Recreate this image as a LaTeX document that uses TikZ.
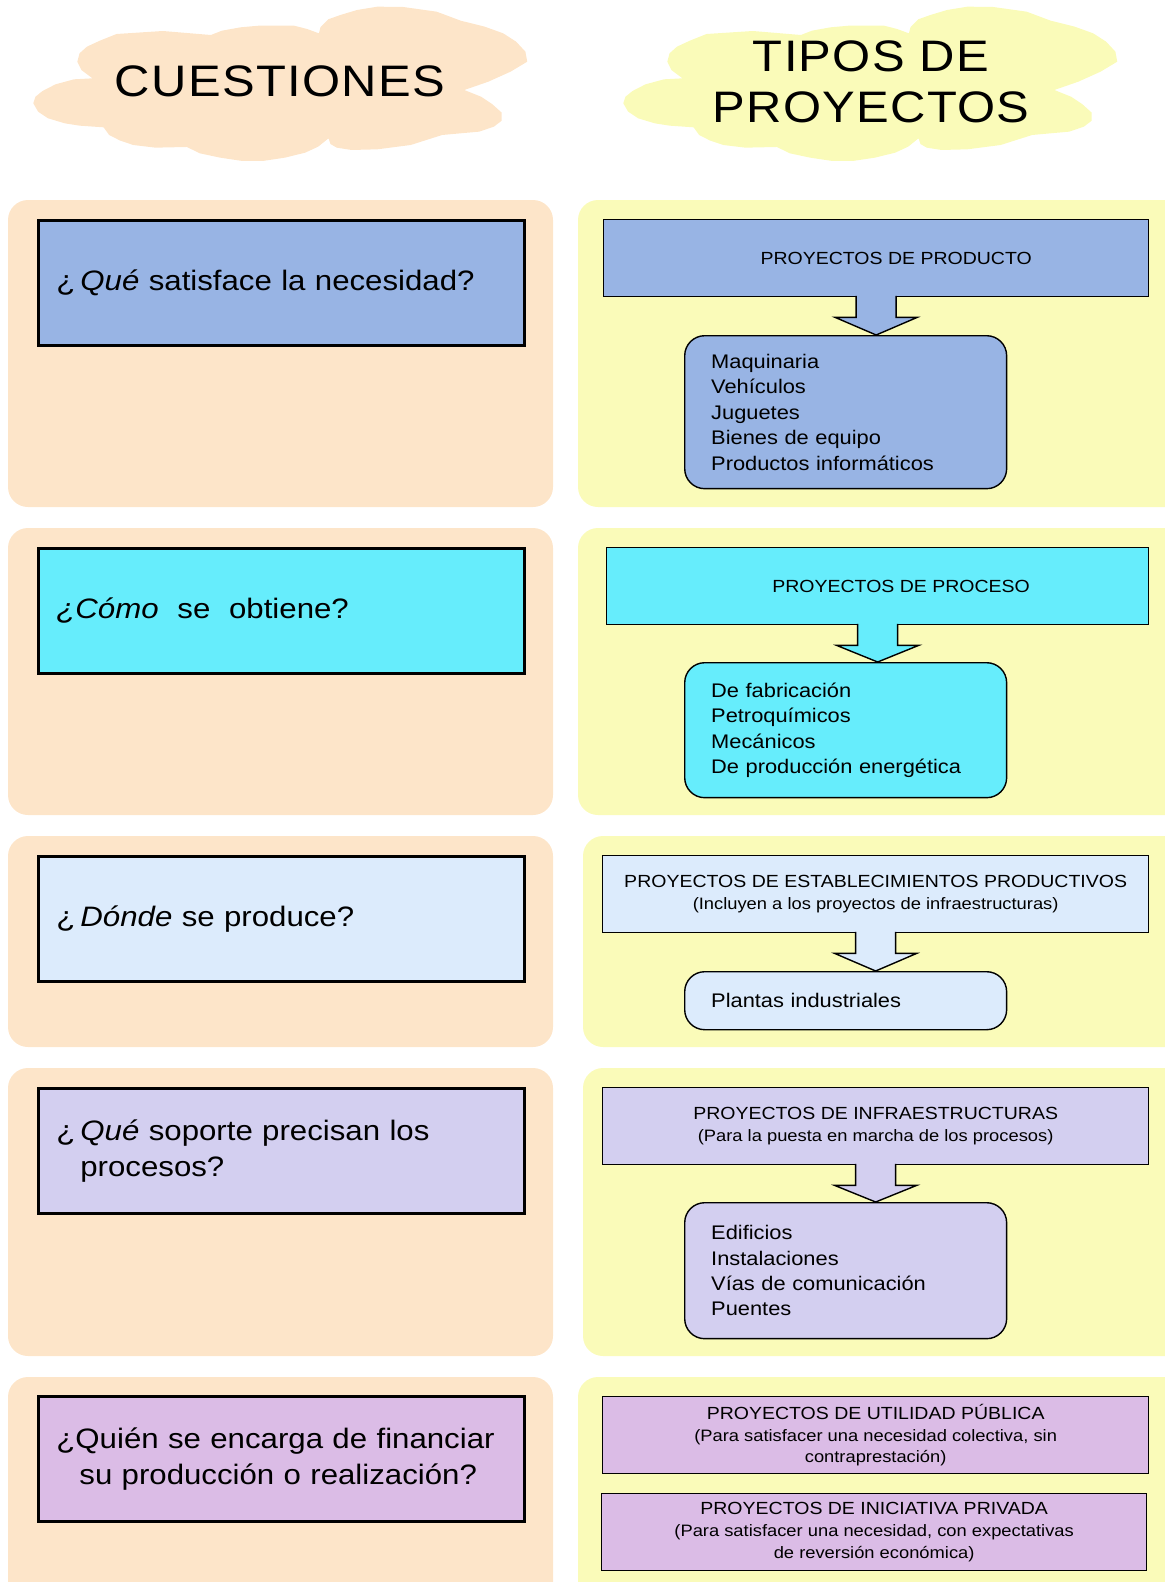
\documentclass[tikz,border=0pt]{standalone}
\usepackage{fontspec}
\setmainfont{Liberation Sans}[FakeStretch=1.11]
\newfontfamily\headfam{Liberation Sans}[FakeStretch=1.11, LetterSpace=3]
\usetikzlibrary{calc}

\definecolor{colpanelq}{HTML}{FDE5C9}
\definecolor{colpanelt}{HTML}{FAFBB9}
\definecolor{colproducto}{HTML}{98B4E4}
\definecolor{colproceso}{HTML}{66EDFC}
\definecolor{colestab}{HTML}{DCEBFC}
\definecolor{colinfra}{HTML}{D3CFF0}
\definecolor{colfinan}{HTML}{DBBCE6}

\newcommand{\headfont}{\headfam\fontsize{25.1}{29.3}\selectfont}
\newcommand{\subtxt}{\fontsize{9.4}{11}\selectfont}
\newcommand{\qsp}{\hspace{0.1cm}}
% cloud outline, traced at 2.7x / 3x
\newcommand{\drawcloud}[2]{%
  \fill[#1, shift={#2}, xscale=0.37, yscale=0.3333] (209,185) -- (215,160) -- (235,140) -- (270,122)
    -- (315,102) -- (440,93) -- (570,105) -- (600,92) -- (650,82) -- (700,77) -- (795,77)
    -- (830,87) -- (862,100) -- (866,82) -- (887,58) -- (920,45) -- (965,30) -- (1020,20)
    -- (1090,21) -- (1180,35) -- (1245,62) -- (1310,80) -- (1360,100) -- (1395,125)
    -- (1420,155) -- (1425,185) -- (1380,215) -- (1320,245) -- (1255,270) -- (1300,290)
    -- (1330,312) -- (1356,338) -- (1356,362) -- (1335,380) -- (1295,395) -- (1195,405)
    -- (1110,435) -- (1020,448) -- (950,450) -- (910,443) -- (893,432) -- (888,415)
    -- (860,440) -- (825,458) -- (770,473) -- (710,483) -- (655,483) -- (595,473)
    -- (540,460) -- (505,441) -- (420,443) -- (360,435) -- (325,422) -- (295,405)
    -- (280,382) -- (215,377) -- (175,370) -- (130,355) -- (103,335) -- (90,310)
    -- (96,290) -- (115,273) -- (150,253) -- (200,238) -- (250,235) -- (220,210) -- cycle;}

\tikzset{
  panel/.style={rounded corners=0.4cm},
  qbox/.style={draw, line width=1.6pt, anchor=north west, minimum width=9.72cm,
    minimum height=2.5cm, text width=9cm, inner xsep=0.36cm, align=left,
    font=\fontsize{16}{20.2}\selectfont},
  hbox/.style={draw, line width=0.8pt, anchor=north west, minimum height=1.54cm,
    align=center, font=\fontsize{10}{12.4}\selectfont},
  ibox/.style={draw, line width=0.8pt, rounded corners=0.4cm, anchor=north west,
    minimum width=6.44cm, text width=5.38cm, inner xsep=0.53cm, align=left,
    font=\fontsize{11.2}{14.5}\selectfont},
  headtxt/.style={font=\headfont, align=center}
}

\begin{document}
\begin{tikzpicture}[x=0.02cm, y=-0.02cm]
  \useasboundingbox (0,0) rectangle (1165,1582);
  \clip (0,0) rectangle (1165,1582);
  % background panels
  \foreach \ya/\yb in {200/507,528/815,836/1047,1068/1356,1377/1610}
    \fill[colpanelq, panel] (8,\ya) rectangle (553,\yb);
  \foreach \xa/\ya/\yb in {578/200/507,578/528/815,583/836/1047,583/1068/1356,578/1377/1610}
    \fill[colpanelt, panel] (\xa,\ya) rectangle (1190,\yb);
  % titles
  \drawcloud{colpanelq}{(0,0)}
  \drawcloud{colpanelt}{(590,0)}
  \node[headtxt] (tcuest) at (280,81) {CUESTIONES};
  \node[headtxt] (ttipos) at (871,82) {TIPOS DE\\PROYECTOS};
  % questions
  \node[qbox, fill=colproducto] (q1) at (37,219) {¿\qsp\textit{Qué} satisface la necesidad?};
  \node[qbox, fill=colproceso] (q2) at (37,547) {\textit{¿Cómo}\ \ se\ \ obtiene?};
  \node[qbox, fill=colestab] (q3) at (37,855) {¿\qsp\textit{Dónde} se produce?};
  \node[qbox, fill=colinfra] (q4) at (37,1087) {¿\qsp\textit{Qué} soporte precisan los\\\hspace*{0.48cm}procesos?};
  \node[qbox, fill=colfinan] (q5) at (37,1395) {¿Quién se encarga de financiar\\\hspace*{0.46cm}su producción o realización?};
  % project types
  \node[hbox, fill=colproducto, minimum width=10.9cm] (h1) at (603,219) {\hspace*{0.8cm}PROYECTOS DE PRODUCTO};
  \node[hbox, fill=colproceso, minimum width=10.84cm] (h2) at (606,547) {\hspace*{0.94cm}PROYECTOS DE PROCESO};
  \node[hbox, fill=colestab, minimum width=10.92cm] (h3) at (602,855)
    {PROYECTOS DE ESTABLECIMIENTOS PRODUCTIVOS\\{\subtxt (Incluyen a los proyectos de infraestructuras)}};
  \node[hbox, fill=colinfra, minimum width=10.92cm] (h4) at (602,1087)
    {PROYECTOS DE INFRAESTRUCTURAS\\{\subtxt (Para la puesta en marcha de los procesos)}};
  \node[hbox, fill=colfinan, minimum width=10.92cm] (h5) at (602,1396)
    {PROYECTOS DE UTILIDAD PÚBLICA\\{\subtxt (Para satisfacer una necesidad colectiva, sin}\\{\subtxt contraprestación)}};
  \node[hbox, fill=colfinan, minimum width=10.9cm] (h6) at (601,1493)
    {PROYECTOS DE INICIATIVA PRIVADA\\{\subtxt (Para satisfacer una necesidad, con expectativas}\\{\subtxt de reversión económica)}};
  % examples
  \node[ibox, fill=colproducto, minimum height=3.06cm] (i1) at (684,335)
    {Maquinaria\\Vehículos\\Juguetes\\Bienes de equipo\\Productos informáticos};
  \node[ibox, fill=colproceso, minimum height=2.7cm] (i2) at (684,662)
    {De fabricación\\Petroquímicos\\Mecánicos\\De producción energética};
  \node[ibox, fill=colestab, minimum height=1.16cm] (i3) at (684,971) {Plantas industriales};
  \node[ibox, fill=colinfra, minimum height=2.72cm] (i4) at (684,1202)
    {Edificios\\Instalaciones\\Vías de comunicación\\Puentes};
  % block arrows
  \foreach \h/\i/\c in {h1/i1/colproducto,h2/i2/colproceso,h3/i3/colestab,h4/i4/colinfra}
    \draw[fill=\c, line width=0.8pt] ($(\h.south)+(-20,-1.5)$) -- ++(0,21.5) -- ++(-21,0)
      -- (\h.south |- \i.north) -- ($(\h.south)+(41,20)$) -- ++(-21,0) -- ++(0,-21.5);
\end{tikzpicture}
\end{document}
